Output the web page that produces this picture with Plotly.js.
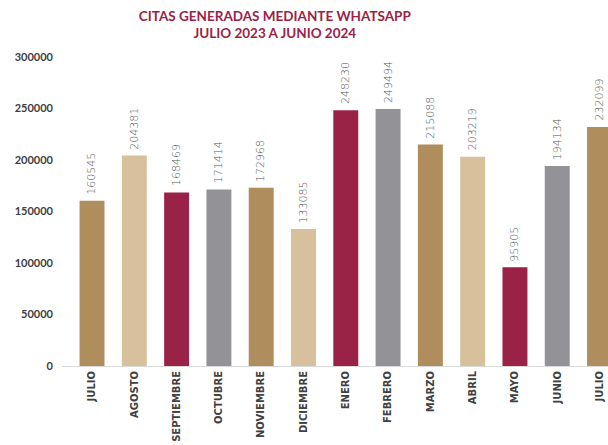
<!DOCTYPE html>
<html><head><meta charset="utf-8">
<script src="https://cdn.plot.ly/plotly-3.0.1.min.js"></script>
<style>html,body{margin:0;padding:0;background:#fff}#c{width:608px;height:445px}</style>
</head><body><div id="c"></div>
<script>
const months = ["JULIO","AGOSTO","SEPTIEMBRE","OCTUBRE","NOVIEMBRE","DICIEMBRE","ENERO","FEBRERO","MARZO","ABRIL","MAYO","JUNIO","JULIO"];
const citas = [160545,204381,168469,171414,172968,133085,248230,249494,215088,203219,95905,194134,232099];
const barColors = ["#B08D5C","#D6C19C","#9B2247","#939297","#B08D5C","#D6C19C","#9B2247","#939297","#B08D5C","#D6C19C","#9B2247","#939297","#B08D5C"];
const yTicks = [0,50000,100000,150000,200000,250000,300000];

const idx = months.map((m,i)=>i);
const labels = citas.map((v,i)=>({
  x:i, y:v, xref:'x', yref:'y', text:String(v), showarrow:false,
  textangle:-90, xanchor:'center', yanchor:'bottom', yshift:4,
  font:{family:'"DejaVu Sans", sans-serif', size:11, color:'#555', weight:200}
}));
Plotly.newPlot('c',[{
  type:'bar', x:idx, y:citas,
  marker:{color:barColors},
  width:0.59, hoverinfo:'none'
}],{
  width:608,height:445,
  margin:{l:62,r:0,t:57,b:79},
  paper_bgcolor:'#fff',plot_bgcolor:'#fff',
  title:{text:'<b>CITAS GENERADAS MEDIANTE WHATSAPP<br>JULIO 2023 A JUNIO 2024</b>',
    font:{family:'Lato, "Open Sans", sans-serif',size:13.5,color:'#9B2247'},
    xref:'container', x:0.452, xanchor:'center', yref:'container', y:0.953, yanchor:'top'},
  showlegend:false,
  annotations:labels,
  xaxis:{range:[-0.71,12.2], tickvals:idx, ticktext:months.map(m=>'<b>'+m+'</b>'),
    tickangle:-90, tickfont:{family:'"DejaVu Sans", sans-serif',size:10,color:'#404040'},
    showline:true, linecolor:'#d9d9d9', linewidth:1, ticks:'', showgrid:false, zeroline:false, fixedrange:true},
  yaxis:{range:[0,300000], tickvals:yTicks, ticktext:yTicks.map(v=>'<b>'+v+'</b>'),
    tickfont:{family:'Lato, "Open Sans", sans-serif',size:11,color:'#404040'},
    ticklabelstandoff:8,
    showgrid:false, zeroline:false, showline:false, ticks:'', ticklen:0, fixedrange:true}
},{staticPlot:true});
</script></body></html>
